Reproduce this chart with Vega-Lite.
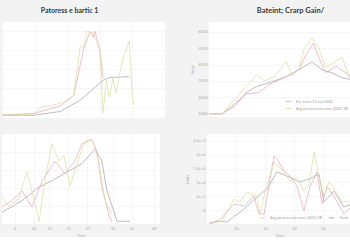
{
  "$schema": "https://vega.github.io/schema/vega-lite/v6.json",
  "background": "#f3f3f3",
  "padding": {"left": 0, "top": 6, "right": 0, "bottom": 0},
  "config": {
    "view": {"stroke": null, "fill": "white"},
    "font": "Lato",
    "axis": {"labelFontSize": 4, "labelColor": "#aaaaaa", "titleFontSize": 4, "titleColor": "#aaaaaa", "titleFontWeight": "normal", "domain": false, "ticks": false, "gridColor": "#f0f0f0", "gridWidth": 0.6, "labelPadding": 2, "titlePadding": 3},
    "title": {"fontSize": 7, "color": "#3a3a3a", "fontWeight": "bold", "offset": 8},
    "legend": {"labelFontSize": 3.5, "labelColor": "#999999", "symbolType": "stroke", "symbolSize": 30, "symbolStrokeWidth": 1, "padding": 0, "rowPadding": 1, "columnPadding": 4, "title": null},
    "line": {"strokeWidth": 0.9, "opacity": 0.85}
  },
  "datasets": {
    "tl": [
      {"t": 0, "v": 1, "s": "Trend"}, {"t": 2, "v": 1, "s": "Trend"}, {"t": 10, "v": 1, "s": "Trend"}, {"t": 18, "v": 5, "s": "Trend"}, {"t": 24, "v": 17, "s": "Trend"}, {"t": 31, "v": 38, "s": "Trend"}, {"t": 33, "v": 41, "s": "Trend"}, {"t": 39, "v": 42, "s": "Trend"},
      {"t": 0, "v": 1, "s": "Est. series 1.0 (n=1,000)"}, {"t": 10, "v": 3, "s": "Est. series 1.0 (n=1,000)"}, {"t": 18, "v": 11, "s": "Est. series 1.0 (n=1,000)"}, {"t": 22, "v": 22, "s": "Est. series 1.0 (n=1,000)"}, {"t": 25, "v": 71, "s": "Est. series 1.0 (n=1,000)"}, {"t": 27, "v": 90, "s": "Est. series 1.0 (n=1,000)"}, {"t": 28, "v": 84, "s": "Est. series 1.0 (n=1,000)"}, {"t": 28.5, "v": 90, "s": "Est. series 1.0 (n=1,000)"}, {"t": 30, "v": 71, "s": "Est. series 1.0 (n=1,000)"}, {"t": 31, "v": 40, "s": "Est. series 1.0 (n=1,000)"},
      {"t": 0, "v": 1, "s": "Avg preview new curve (2021) 3B"}, {"t": 10, "v": 2, "s": "Avg preview new curve (2021) 3B"}, {"t": 12, "v": 10, "s": "Avg preview new curve (2021) 3B"}, {"t": 15, "v": 11, "s": "Avg preview new curve (2021) 3B"}, {"t": 19, "v": 15, "s": "Avg preview new curve (2021) 3B"}, {"t": 22, "v": 22, "s": "Avg preview new curve (2021) 3B"}, {"t": 24, "v": 75, "s": "Avg preview new curve (2021) 3B"}, {"t": 25, "v": 73, "s": "Avg preview new curve (2021) 3B"}, {"t": 26, "v": 90, "s": "Avg preview new curve (2021) 3B"}, {"t": 28, "v": 88, "s": "Avg preview new curve (2021) 3B"}, {"t": 30, "v": 70, "s": "Avg preview new curve (2021) 3B"}, {"t": 31, "v": 3, "s": "Avg preview new curve (2021) 3B"}, {"t": 32, "v": 38, "s": "Avg preview new curve (2021) 3B"}, {"t": 33, "v": 20, "s": "Avg preview new curve (2021) 3B"}, {"t": 34, "v": 40, "s": "Avg preview new curve (2021) 3B"}, {"t": 35, "v": 25, "s": "Avg preview new curve (2021) 3B"}, {"t": 37, "v": 60, "s": "Avg preview new curve (2021) 3B"}, {"t": 39, "v": 80, "s": "Avg preview new curve (2021) 3B"}, {"t": 40, "v": 20, "s": "Avg preview new curve (2021) 3B"}, {"t": 40.5, "v": 12, "s": "Avg preview new curve (2021) 3B"}
    ],
    "tr": [
      {"t": 0, "v": 1000, "s": "Trend"}, {"t": 4.5, "v": 1000, "s": "Trend"}, {"t": 8.6, "v": 1430, "s": "Trend"}, {"t": 12.8, "v": 2280, "s": "Trend"}, {"t": 16.2, "v": 2650, "s": "Trend"}, {"t": 20.7, "v": 2890, "s": "Trend"}, {"t": 26.6, "v": 3260, "s": "Trend"}, {"t": 31, "v": 3680, "s": "Trend"}, {"t": 35.5, "v": 4170, "s": "Trend"}, {"t": 39, "v": 3680, "s": "Trend"}, {"t": 42.4, "v": 3500, "s": "Trend"}, {"t": 45.9, "v": 3200, "s": "Trend"}, {"t": 49.3, "v": 3070, "s": "Trend"},
      {"t": 0, "v": 1000, "s": "Est. series 1.0 (n=1,000)"}, {"t": 4.5, "v": 1000, "s": "Est. series 1.0 (n=1,000)"}, {"t": 12.8, "v": 2200, "s": "Est. series 1.0 (n=1,000)"}, {"t": 17.2, "v": 2300, "s": "Est. series 1.0 (n=1,000)"}, {"t": 21, "v": 2800, "s": "Est. series 1.0 (n=1,000)"}, {"t": 27, "v": 3300, "s": "Est. series 1.0 (n=1,000)"}, {"t": 31, "v": 3700, "s": "Est. series 1.0 (n=1,000)"}, {"t": 33.8, "v": 4700, "s": "Est. series 1.0 (n=1,000)"}, {"t": 36, "v": 5300, "s": "Est. series 1.0 (n=1,000)"}, {"t": 37.9, "v": 4400, "s": "Est. series 1.0 (n=1,000)"}, {"t": 40.3, "v": 3500, "s": "Est. series 1.0 (n=1,000)"}, {"t": 43.8, "v": 3900, "s": "Est. series 1.0 (n=1,000)"}, {"t": 47.2, "v": 3500, "s": "Est. series 1.0 (n=1,000)"}, {"t": 50, "v": 2900, "s": "Est. series 1.0 (n=1,000)"},
      {"t": 0, "v": 1000, "s": "Avg preview new curve (2021) 3B"}, {"t": 4.5, "v": 1000, "s": "Avg preview new curve (2021) 3B"}, {"t": 12, "v": 2500, "s": "Avg preview new curve (2021) 3B"}, {"t": 16.6, "v": 3400, "s": "Avg preview new curve (2021) 3B"}, {"t": 19, "v": 3000, "s": "Avg preview new curve (2021) 3B"}, {"t": 23, "v": 3300, "s": "Avg preview new curve (2021) 3B"}, {"t": 26.6, "v": 4200, "s": "Avg preview new curve (2021) 3B"}, {"t": 28.6, "v": 3300, "s": "Avg preview new curve (2021) 3B"}, {"t": 31, "v": 3700, "s": "Avg preview new curve (2021) 3B"}, {"t": 32.8, "v": 4960, "s": "Avg preview new curve (2021) 3B"}, {"t": 35.5, "v": 5630, "s": "Avg preview new curve (2021) 3B"}, {"t": 37.9, "v": 5000, "s": "Avg preview new curve (2021) 3B"}, {"t": 40.3, "v": 3800, "s": "Avg preview new curve (2021) 3B"}, {"t": 43.8, "v": 4200, "s": "Avg preview new curve (2021) 3B"}, {"t": 45.9, "v": 4450, "s": "Avg preview new curve (2021) 3B"}, {"t": 48.3, "v": 3300, "s": "Avg preview new curve (2021) 3B"}, {"t": 50, "v": 3800, "s": "Avg preview new curve (2021) 3B"}
    ],
    "bl": [
      {"t": 0, "v": 13, "s": "Trend"}, {"t": 6.3, "v": 26, "s": "Trend"}, {"t": 11.7, "v": 41, "s": "Trend"}, {"t": 15.8, "v": 48, "s": "Trend"}, {"t": 21.2, "v": 59, "s": "Trend"}, {"t": 25.3, "v": 67, "s": "Trend"}, {"t": 29.4, "v": 83, "s": "Trend"}, {"t": 31.6, "v": 70, "s": "Trend"}, {"t": 33.2, "v": 37, "s": "Trend"}, {"t": 35.4, "v": 14, "s": "Trend"}, {"t": 36.4, "v": 3, "s": "Trend"}, {"t": 40.5, "v": 3, "s": "Trend"},
      {"t": 0, "v": 19, "s": "Est. series 1.0 (n=1,000)"}, {"t": 3.2, "v": 26, "s": "Est. series 1.0 (n=1,000)"}, {"t": 6.3, "v": 37, "s": "Est. series 1.0 (n=1,000)"}, {"t": 9.5, "v": 19, "s": "Est. series 1.0 (n=1,000)"}, {"t": 12.7, "v": 48, "s": "Est. series 1.0 (n=1,000)"}, {"t": 16.8, "v": 70, "s": "Est. series 1.0 (n=1,000)"}, {"t": 19.9, "v": 56, "s": "Est. series 1.0 (n=1,000)"}, {"t": 23.1, "v": 70, "s": "Est. series 1.0 (n=1,000)"}, {"t": 25.3, "v": 89, "s": "Est. series 1.0 (n=1,000)"}, {"t": 28.5, "v": 94, "s": "Est. series 1.0 (n=1,000)"}, {"t": 30, "v": 81, "s": "Est. series 1.0 (n=1,000)"}, {"t": 31.6, "v": 41, "s": "Est. series 1.0 (n=1,000)"}, {"t": 33.9, "v": 9, "s": "Est. series 1.0 (n=1,000)"}, {"t": 34.8, "v": 3, "s": "Est. series 1.0 (n=1,000)"},
      {"t": 0, "v": 30, "s": "Avg preview new curve (2021) 3B"}, {"t": 2.1, "v": 20, "s": "Avg preview new curve (2021) 3B"}, {"t": 5.3, "v": 28, "s": "Avg preview new curve (2021) 3B"}, {"t": 7.9, "v": 58, "s": "Avg preview new curve (2021) 3B"}, {"t": 10.4, "v": 24, "s": "Avg preview new curve (2021) 3B"}, {"t": 11.7, "v": 3, "s": "Avg preview new curve (2021) 3B"}, {"t": 13.6, "v": 48, "s": "Avg preview new curve (2021) 3B"}, {"t": 15.8, "v": 89, "s": "Avg preview new curve (2021) 3B"}, {"t": 18, "v": 70, "s": "Avg preview new curve (2021) 3B"}, {"t": 19.6, "v": 76, "s": "Avg preview new curve (2021) 3B"}, {"t": 21.5, "v": 42, "s": "Avg preview new curve (2021) 3B"}, {"t": 23.7, "v": 67, "s": "Avg preview new curve (2021) 3B"}, {"t": 26.3, "v": 92, "s": "Avg preview new curve (2021) 3B"}, {"t": 28.5, "v": 94, "s": "Avg preview new curve (2021) 3B"}, {"t": 30.6, "v": 70, "s": "Avg preview new curve (2021) 3B"}, {"t": 32.6, "v": 26, "s": "Avg preview new curve (2021) 3B"}, {"t": 34.8, "v": 11, "s": "Avg preview new curve (2021) 3B"}
    ],
    "br": [
      {"t": 0.7, "v": -5000, "s": "Trend"}, {"t": 3.4, "v": -3900, "s": "Trend"}, {"t": 6.9, "v": -4270, "s": "Trend"}, {"t": 12.8, "v": 420, "s": "Trend"}, {"t": 17.2, "v": 4760, "s": "Trend"}, {"t": 20.7, "v": 7650, "s": "Trend"}, {"t": 24.1, "v": 13800, "s": "Trend"}, {"t": 28.3, "v": 12000, "s": "Trend"}, {"t": 32, "v": 10200, "s": "Trend"}, {"t": 35.5, "v": 11270, "s": "Trend"}, {"t": 38.6, "v": 13070, "s": "Trend"}, {"t": 40.3, "v": 3000, "s": "Trend"}, {"t": 43.8, "v": 6930, "s": "Trend"}, {"t": 47.2, "v": 1150, "s": "Trend"}, {"t": 50, "v": 2230, "s": "Trend"},
      {"t": 0.7, "v": -4700, "s": "Est. series 1.0 (n=1,000)"}, {"t": 4.1, "v": -3900, "s": "Est. series 1.0 (n=1,000)"}, {"t": 9.3, "v": 2230, "s": "Est. series 1.0 (n=1,000)"}, {"t": 12.8, "v": 1500, "s": "Est. series 1.0 (n=1,000)"}, {"t": 16.2, "v": 5100, "s": "Est. series 1.0 (n=1,000)"}, {"t": 17.9, "v": -1400, "s": "Est. series 1.0 (n=1,000)"}, {"t": 19.7, "v": -1400, "s": "Est. series 1.0 (n=1,000)"}, {"t": 23.1, "v": 19600, "s": "Est. series 1.0 (n=1,000)"}, {"t": 24.1, "v": 18500, "s": "Est. series 1.0 (n=1,000)"}, {"t": 26.6, "v": 14200, "s": "Est. series 1.0 (n=1,000)"}, {"t": 28.6, "v": 12350, "s": "Est. series 1.0 (n=1,000)"}, {"t": 31, "v": 8740, "s": "Est. series 1.0 (n=1,000)"}, {"t": 33.4, "v": -300, "s": "Est. series 1.0 (n=1,000)"}, {"t": 35.5, "v": 8400, "s": "Est. series 1.0 (n=1,000)"}, {"t": 37.9, "v": 13800, "s": "Est. series 1.0 (n=1,000)"}, {"t": 39.7, "v": 2230, "s": "Est. series 1.0 (n=1,000)"}, {"t": 41.4, "v": 8400, "s": "Est. series 1.0 (n=1,000)"}, {"t": 43.8, "v": 5100, "s": "Est. series 1.0 (n=1,000)"}, {"t": 47.2, "v": -1400, "s": "Est. series 1.0 (n=1,000)"}, {"t": 50, "v": 1500, "s": "Est. series 1.0 (n=1,000)"},
      {"t": 0.7, "v": -5000, "s": "Avg preview new curve (2021) 3B"}, {"t": 5.2, "v": -3900, "s": "Avg preview new curve (2021) 3B"}, {"t": 9.3, "v": 4040, "s": "Avg preview new curve (2021) 3B"}, {"t": 11.4, "v": 2950, "s": "Avg preview new curve (2021) 3B"}, {"t": 13.8, "v": 6570, "s": "Avg preview new curve (2021) 3B"}, {"t": 15, "v": 5850, "s": "Avg preview new curve (2021) 3B"}, {"t": 17.2, "v": 5120, "s": "Avg preview new curve (2021) 3B"}, {"t": 18.3, "v": -1380, "s": "Avg preview new curve (2021) 3B"}, {"t": 20, "v": 6570, "s": "Avg preview new curve (2021) 3B"}, {"t": 23.1, "v": 17400, "s": "Avg preview new curve (2021) 3B"}, {"t": 26.6, "v": 13800, "s": "Avg preview new curve (2021) 3B"}, {"t": 28.6, "v": 10200, "s": "Avg preview new curve (2021) 3B"}, {"t": 31, "v": 12000, "s": "Avg preview new curve (2021) 3B"}, {"t": 33.4, "v": 6930, "s": "Avg preview new curve (2021) 3B"}, {"t": 35.2, "v": 9460, "s": "Avg preview new curve (2021) 3B"}, {"t": 36.9, "v": 21000, "s": "Avg preview new curve (2021) 3B"}, {"t": 38.6, "v": 12000, "s": "Avg preview new curve (2021) 3B"}, {"t": 40.3, "v": 5120, "s": "Avg preview new curve (2021) 3B"}, {"t": 42.1, "v": 10200, "s": "Avg preview new curve (2021) 3B"}, {"t": 44.5, "v": 6930, "s": "Avg preview new curve (2021) 3B"}, {"t": 46.6, "v": 2950, "s": "Avg preview new curve (2021) 3B"}, {"t": 48.9, "v": 3300, "s": "Avg preview new curve (2021) 3B"}, {"t": 50, "v": 1500, "s": "Avg preview new curve (2021) 3B"}
    ]
  },
  "resolve": {"scale": {"color": "independent"}, "legend": {"color": "independent"}},
  "spacing": 16,
  "vconcat": [
    {
      "spacing": 25,
      "resolve": {"scale": {"color": "independent"}, "legend": {"color": "independent"}},
      "hconcat": [
        {
          "width": 163, "height": 96,
          "title": {"text": "Patoress e bartic 1", "dx": -14},
          "data": {"name": "tl"},
          "mark": {"type": "line"},
          "encoding": {
            "x": {"field": "t", "type": "quantitative", "scale": {"domain": [0, 50]}, "axis": {"labels": false, "title": null, "tickCount": 6}},
            "y": {"field": "v", "type": "quantitative", "scale": {"domain": [-2, 100], "nice": false}, "axis": {"labels": false, "title": null, "values": [10, 30, 50, 70, 90]}},
            "color": {"field": "s", "type": "nominal", "scale": {"domain": ["Trend", "Est. series 1.0 (n=1,000)", "Avg preview new curve (2021) 3B"], "range": ["#aaa4ae", "#eaaabd", "#dde0a4"]}, "legend": null}
          }
        },
        {
          "width": 145, "height": 95,
          "title": {"text": "Bateint; Crarp Gain/", "dx": 9, "fontSize": 7.5},
          "data": {"name": "tr"},
          "mark": {"type": "line"},
          "encoding": {
            "x": {"field": "t", "type": "quantitative", "scale": {"domain": [0, 50]}, "axis": {"labels": false, "title": null, "grid": false}},
            "y": {"field": "v", "type": "quantitative", "scale": {"domain": [800, 6600], "nice": false}, "axis": {"title": "Value", "values": [1000, 2000, 3000, 4000, 5000, 6000], "format": "d"}},
            "color": {"field": "s", "type": "nominal", "scale": {"domain": ["Trend", "Est. series 1.0 (n=1,000)", "Avg preview new curve (2021) 3B"], "range": ["#aaa4ae", "#eaaabd", "#dde0a4"]}, "legend": {"orient": "bottom-right", "offset": 6, "values": ["Est. series 1.0 (n=1,000)", "Avg preview new curve (2021) 3B"]}}
          }
        }
      ]
    },
    {
      "spacing": 25,
      "resolve": {"scale": {"color": "independent"}, "legend": {"color": "independent"}},
      "hconcat": [
        {
          "width": 158, "height": 90,
          "data": {"name": "bl"},
          "mark": {"type": "line"},
          "encoding": {
            "x": {"field": "t", "type": "quantitative", "scale": {"domain": [0, 50]}, "axis": {"title": "Time", "values": [4, 10, 15, 21, 27, 35, 41, 48]}},
            "y": {"field": "v", "type": "quantitative", "scale": {"domain": [0, 100], "nice": false}, "axis": {"labels": false, "title": null, "values": [20, 40, 60, 80]}},
            "color": {"field": "s", "type": "nominal", "scale": {"domain": ["Trend", "Est. series 1.0 (n=1,000)", "Avg preview new curve (2021) 3B"], "range": ["#aaa4ae", "#eaaabd", "#dde0a4"]}, "legend": null}
          }
        },
        {
          "width": 145, "height": 90,
          "data": {"name": "br"},
          "mark": {"type": "line"},
          "encoding": {
            "x": {"field": "t", "type": "quantitative", "scale": {"domain": [0, 50]}, "axis": {"title": "Date", "values": [10, 20, 30, 40]}},
            "y": {"field": "v", "type": "quantitative", "scale": {"domain": [-5000, 27500], "nice": false}, "axis": {"title": "Units", "values": [0, 5000, 10000, 15000, 20000, 25000], "format": ","}},
            "color": {"field": "s", "type": "nominal", "scale": {"domain": ["Trend", "Est. series 1.0 (n=1,000)", "Avg preview new curve (2021) 3B"], "range": ["#aaa4ae", "#eaaabd", "#dde0a4"]}, "legend": {"orient": "bottom-right", "offset": 4, "direction": "horizontal", "values": ["Avg preview new curve (2021) 3B", "Trend"]}}
          }
        }
      ]
    }
  ]
}
